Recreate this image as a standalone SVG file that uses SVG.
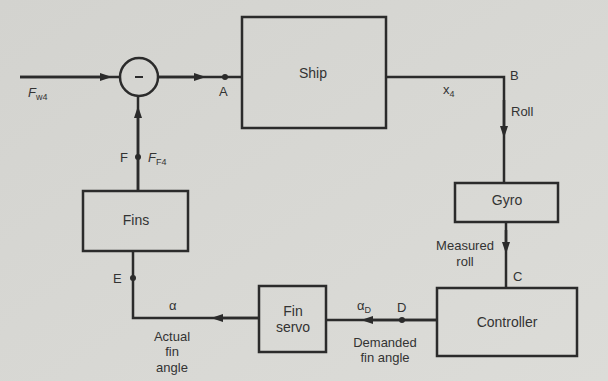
<svg xmlns="http://www.w3.org/2000/svg" width="608" height="381" viewBox="0 0 608 381">
<style>
.box{fill:none;stroke:#2b2b2b;stroke-width:2.5}
.ln{fill:none;stroke:#2b2b2b;stroke-width:2.5}
.t{font-family:"Liberation Sans",Arial,sans-serif;font-size:14px;fill:#333;text-anchor:middle}
.s{font-family:"Liberation Sans",Arial,sans-serif;font-size:13px;fill:#333}
.sub{font-size:9px;font-style:normal}
.dot{fill:#2b2b2b}
</style>
<defs>
<marker id="ah" viewBox="0 0 12 8" refX="6" refY="4" markerWidth="12" markerHeight="8" markerUnits="userSpaceOnUse" orient="auto">
<path d="M0,0 L12,4 L0,8 Z" fill="#2b2b2b"/>
</marker>
<linearGradient id="bg" x1="0" y1="0" x2="1" y2="1">
<stop offset="0" stop-color="#d3d3cf"/>
<stop offset="1" stop-color="#dcdcd8"/>
</linearGradient>
</defs>
<rect x="0" y="0" width="608" height="381" fill="url(#bg)"/>
<g id="connectors">
<path class="ln" d="M20,77 L120,77"/><path class="ln" d="M20,77 L106,77" marker-end="url(#ah)"/>
<path class="ln" d="M158,77 L242,77"/><path class="ln" d="M158,77 L200,77" marker-end="url(#ah)"/>
<path class="ln" d="M386,77 L504,77 L504,183"/><path class="ln" d="M504,100 L504,132" marker-end="url(#ah)"/>
<path class="ln" d="M506,222 L506,288"/><path class="ln" d="M506,230 L506,248" marker-end="url(#ah)"/>
<path class="ln" d="M437,320 L326,320"/><path class="ln" d="M437,320 L367,320" marker-end="url(#ah)"/>
<path class="ln" d="M259,318 L133,318 L133,251"/><path class="ln" d="M259,318 L217,318" marker-end="url(#ah)"/>
<path class="ln" d="M138,191 L138,97"/><path class="ln" d="M138,191 L138,112" marker-end="url(#ah)"/>
<circle class="dot" cx="225" cy="77" r="3"/>
<circle class="dot" cx="138" cy="157" r="3"/>
<circle class="dot" cx="133" cy="278" r="3"/>
<circle class="dot" cx="402" cy="320" r="3"/>
<text class="s" x="28" y="97" font-style="italic">F<tspan class="sub" dy="3">w4</tspan></text>
<text class="s" x="219" y="96">A</text>
<text class="s" x="510" y="80">B</text>
<text class="s" x="443" y="94">x<tspan class="sub" dy="3">4</tspan></text>
<text class="s" x="511" y="116">Roll</text>
<text class="s" x="465" y="250" text-anchor="middle">Measured</text>
<text class="s" x="465" y="266" text-anchor="middle">roll</text>
<text class="s" x="513" y="281">C</text>
<text class="s" x="397" y="312">D</text>
<text class="s" x="357" y="310" font-family="Liberation Serif">α<tspan font-family="Liberation Sans" class="sub" dy="3">D</tspan></text>
<text class="s" x="385" y="347" text-anchor="middle">Demanded</text>
<text class="s" x="385" y="362" text-anchor="middle">fin angle</text>
<text class="s" x="169" y="310" font-family="Liberation Serif">α</text>
<text class="s" x="172" y="341" text-anchor="middle">Actual</text>
<text class="s" x="172" y="356" text-anchor="middle">fin</text>
<text class="s" x="172" y="372" text-anchor="middle">angle</text>
<text class="s" x="113" y="283">E</text>
<text class="s" x="120" y="162">F</text>
<text class="s" x="148" y="162" font-style="italic">F<tspan class="sub" dy="3">F4</tspan></text>
</g>
<g id="sum">
<circle cx="139" cy="77" r="19" fill="none" stroke="#2b2b2b" stroke-width="2.5"/>
<line x1="135" y1="77" x2="143" y2="77" stroke="#2b2b2b" stroke-width="2"/>
</g>
<g id="ship"><rect class="box" x="242" y="17" width="144" height="111"/><text class="t" x="313" y="78">Ship</text></g>
<g id="gyro"><rect class="box" x="455" y="183" width="103" height="39"/><text class="t" x="507" y="205">Gyro</text></g>
<g id="controller"><rect class="box" x="437" y="288" width="140" height="68"/><text class="t" x="507" y="327">Controller</text></g>
<g id="finservo"><rect class="box" x="259" y="286" width="67" height="66"/><text class="t" x="293" y="316">Fin</text><text class="t" x="293" y="332">servo</text></g>
<g id="fins"><rect class="box" x="83" y="191" width="105" height="60"/><text class="t" x="136" y="225">Fins</text></g>
</svg>
